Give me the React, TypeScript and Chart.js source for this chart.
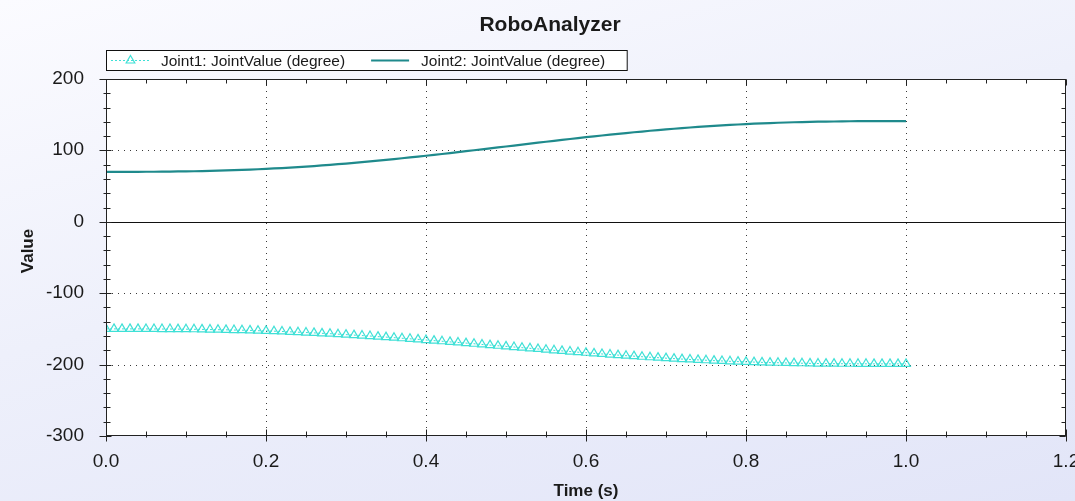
import React, { useEffect, useRef } from "react";
import { Chart, registerables } from "chart.js";

Chart.register(...registerables);

const TITLE = "RoboAnalyzer";
const X_TITLE = "Time (s)";
const Y_TITLE = "Value";
const SERIES_NAMES = ["Joint1: JointValue (degree)", "Joint2: JointValue (degree)"];

const TIME = [
  0, 0.01, 0.02, 0.03, 0.04, 0.05, 0.06, 0.07, 0.08, 0.09,
  0.1, 0.11, 0.12, 0.13, 0.14, 0.15, 0.16, 0.17, 0.18, 0.19,
  0.2, 0.21, 0.22, 0.23, 0.24, 0.25, 0.26, 0.27, 0.28, 0.29,
  0.3, 0.31, 0.32, 0.33, 0.34, 0.35, 0.36, 0.37, 0.38, 0.39,
  0.4, 0.41, 0.42, 0.43, 0.44, 0.45, 0.46, 0.47, 0.48, 0.49,
  0.5, 0.51, 0.52, 0.53, 0.54, 0.55, 0.56, 0.57, 0.58, 0.59,
  0.6, 0.61, 0.62, 0.63, 0.64, 0.65, 0.66, 0.67, 0.68, 0.69,
  0.7, 0.71, 0.72, 0.73, 0.74, 0.75, 0.76, 0.77, 0.78, 0.79,
  0.8, 0.81, 0.82, 0.83, 0.84, 0.85, 0.86, 0.87, 0.88, 0.89,
  0.9, 0.91, 0.92, 0.93, 0.94, 0.95, 0.96, 0.97, 0.98, 0.99,
  1.0,
];

const JOINT1 = [
  -150.0, -150.0, -150.0, -150.0, -150.0, -150.1, -150.1, -150.2, -150.2, -150.3,
  -150.4, -150.5, -150.7, -150.9, -151.1, -151.3, -151.6, -151.8, -152.1, -152.5,
  -152.8, -153.2, -153.6, -154.1, -154.6, -155.1, -155.6, -156.2, -156.7, -157.4,
  -158.0, -158.7, -159.3, -160.0, -160.8, -161.5, -162.3, -163.1, -163.9, -164.7,
  -165.6, -166.4, -167.3, -168.2, -169.0, -169.9, -170.8, -171.8, -172.7, -173.6,
  -174.5, -175.4, -176.3, -177.2, -178.1, -179.1, -180.0, -180.8, -181.7, -182.6,
  -183.4, -184.3, -185.1, -185.9, -186.7, -187.5, -188.2, -189.0, -189.7, -190.3,
  -191.0, -191.6, -192.3, -192.8, -193.4, -193.9, -194.4, -194.9, -195.4, -195.8,
  -196.2, -196.5, -196.9, -197.2, -197.4, -197.7, -197.9, -198.1, -198.3, -198.5,
  -198.6, -198.7, -198.8, -198.8, -198.9, -198.9, -199.0, -199.0, -199.0, -199.0,
  -199.0,
];

const JOINT2 = [
  70.0, 70.0, 70.0, 70.0, 70.0, 70.1, 70.1, 70.2, 70.3, 70.5,
  70.6, 70.8, 71.0, 71.3, 71.6, 71.9, 72.3, 72.7, 73.1, 73.6,
  74.1, 74.7, 75.3, 75.9, 76.6, 77.3, 78.1, 78.9, 79.8, 80.7,
  81.6, 82.5, 83.5, 84.6, 85.6, 86.7, 87.8, 89.0, 90.1, 91.3,
  92.5, 93.8, 95.0, 96.3, 97.6, 98.9, 100.2, 101.5, 102.8, 104.2,
  105.5, 106.8, 108.2, 109.5, 110.8, 112.1, 113.4, 114.7, 116.0, 117.2,
  118.5, 119.7, 120.9, 122.0, 123.2, 124.3, 125.4, 126.4, 127.5, 128.5,
  129.4, 130.3, 131.2, 132.1, 132.9, 133.7, 134.4, 135.1, 135.7, 136.3,
  136.9, 137.4, 137.9, 138.3, 138.7, 139.1, 139.4, 139.7, 140.0, 140.2,
  140.4, 140.5, 140.7, 140.8, 140.9, 140.9, 141.0, 141.0, 141.0, 141.0,
  141.0,
];

const X_TICKS = [0, 0.2, 0.4, 0.6, 0.8, 1.0, 1.2];
const X_TICK_LABELS = ["0.0", "0.2", "0.4", "0.6", "0.8", "1.0", "1.2"];
const Y_TICKS = [-300, -200, -100, 0, 100, 200];
const Y_TICK_LABELS = ["-300", "-200", "-100", "0", "100", "200"];
const X_MINOR_STEP = 0.05;
const Y_MINOR_STEP = 20;

const COLOR_J1 = "#3FE0D6";
const COLOR_J2 = "#1F8A8C";
const FONT = '"Liberation Sans", Arial, sans-serif';

function line(ctx: CanvasRenderingContext2D, x1: number, y1: number, x2: number, y2: number) {
  ctx.beginPath();
  ctx.moveTo(x1, y1);
  ctx.lineTo(x2, y2);
  ctx.stroke();
}

const framePlugin = {
  id: "zedFrame",
  beforeDatasetsDraw(chart: any) {
    const { ctx, chartArea: a, scales } = chart;
    const xs = scales.x;
    const ys = scales.y;
    ctx.save();
    ctx.fillStyle = "#ffffff";
    ctx.fillRect(a.left, a.top, a.right - a.left, a.bottom - a.top);
    ctx.strokeStyle = "#3a3a3a";
    ctx.lineWidth = 1;
    ctx.setLineDash([1, 5]);
    for (const v of X_TICKS) {
      if (v <= xs.min || v >= xs.max) continue;
      const px = Math.round(xs.getPixelForValue(v)) + 0.5;
      line(ctx, px, a.top, px, a.bottom);
    }
    for (const v of Y_TICKS) {
      if (v <= ys.min || v >= ys.max || v === 0) continue;
      const py = Math.round(ys.getPixelForValue(v)) + 0.5;
      line(ctx, a.left, py, a.right, py);
    }
    ctx.setLineDash([]);
    ctx.strokeStyle = "#111";
    const pz = Math.round(ys.getPixelForValue(0)) + 0.5;
    line(ctx, a.left, pz, a.right, pz);
    ctx.restore();
  },
  afterDraw(chart: any) {
    const { ctx, chartArea: a, scales } = chart;
    const xs = scales.x;
    const ys = scales.y;
    const L = Math.round(a.left) + 0.5;
    const R = Math.round(a.right) - 0.5;
    const T = Math.round(a.top) + 0.5;
    const B = Math.round(a.bottom) - 0.5;
    ctx.save();
    ctx.strokeStyle = "#222";
    ctx.lineWidth = 1;
    ctx.setLineDash([]);
    ctx.strokeRect(L, T, R - L, B - T);

    for (let v = xs.min; v <= xs.max + 1e-9; v += X_MINOR_STEP) {
      const px = Math.round(xs.getPixelForValue(v)) + 0.5;
      line(ctx, px, B - 4, px, B + 2);
      line(ctx, px, T, px, T + 4);
    }
    for (const v of X_TICKS) {
      const px = Math.round(xs.getPixelForValue(v)) + 0.5;
      line(ctx, px, B - 6, px, B + 6);
      line(ctx, px, T, px, T + 6);
    }
    for (let v = ys.min; v <= ys.max + 1e-9; v += Y_MINOR_STEP) {
      const py = Math.round(ys.getPixelForValue(v)) + 0.5;
      line(ctx, L - 3, py, L + 4, py);
      line(ctx, R - 4, py, R, py);
    }
    for (const v of Y_TICKS) {
      const py = Math.round(ys.getPixelForValue(v)) + 0.5;
      line(ctx, L - 7, py, L + 5, py);
      line(ctx, R - 6, py, R, py);
    }

    ctx.fillStyle = "#1a1a1a";
    ctx.font = `19px ${FONT}`;
    ctx.textBaseline = "alphabetic";
    ctx.textAlign = "center";
    X_TICKS.forEach((v, i) => {
      ctx.fillText(X_TICK_LABELS[i], xs.getPixelForValue(v), 467);
    });
    ctx.textAlign = "right";
    Y_TICKS.forEach((v, i) => {
      ctx.fillText(Y_TICK_LABELS[i], 84, ys.getPixelForValue(v) + 5);
    });

    ctx.font = `bold 17px ${FONT}`;
    ctx.textAlign = "center";
    ctx.fillText(X_TITLE, (a.left + a.right) / 2, 496);
    ctx.save();
    ctx.translate(33, 251);
    ctx.rotate(-Math.PI / 2);
    ctx.fillText(Y_TITLE, 0, 0);
    ctx.restore();

    ctx.font = `bold 21px ${FONT}`;
    ctx.fillText(TITLE, 550, 31);

    ctx.font = `15.5px ${FONT}`;
    const w1 = ctx.measureText(SERIES_NAMES[0]).width;
    const w2 = ctx.measureText(SERIES_NAMES[1]).width;
    const bx = 106.5, by = 50.5, bh = 20;
    const t1 = 161;
    const l2a = t1 + w1 + 26;
    const l2b = l2a + 38;
    const t2 = l2b + 12;
    const bw = t2 + w2 + 22 - bx;
    ctx.fillStyle = "#ffffff";
    ctx.fillRect(bx, by, bw, bh);
    ctx.strokeStyle = "#111";
    ctx.strokeRect(bx, by, bw, bh);
    const ly = by + bh / 2;
    ctx.strokeStyle = COLOR_J1;
    ctx.setLineDash([2, 2]);
    line(ctx, 111, ly, 150, ly);
    ctx.setLineDash([]);
    ctx.lineWidth = 1.2;
    const cx = 130.5, r = 5;
    ctx.beginPath();
    ctx.moveTo(cx, ly - r);
    ctx.lineTo(cx + r * 0.866, ly + r * 0.5);
    ctx.lineTo(cx - r * 0.866, ly + r * 0.5);
    ctx.closePath();
    ctx.stroke();
    ctx.strokeStyle = COLOR_J2;
    ctx.lineWidth = 2;
    line(ctx, l2a, ly, l2b, ly);
    ctx.fillStyle = "#1a1a1a";
    ctx.textAlign = "left";
    ctx.fillText(SERIES_NAMES[0], t1, 66);
    ctx.fillText(SERIES_NAMES[1], t2, 66);
    ctx.restore();
  },
};

export default function App() {
  const ref = useRef<HTMLCanvasElement | null>(null);
  useEffect(() => {
    document.body.style.margin = "0";
    const canvas = ref.current;
    if (!canvas) return;
    const chart = new Chart(canvas, {
      type: "line",
      data: {
        datasets: [
          {
            label: SERIES_NAMES[0],
            data: TIME.map((t, i) => ({ x: t, y: JOINT1[i] })),
            borderColor: COLOR_J1,
            borderWidth: 1,
            borderDash: [2, 2],
            pointStyle: "triangle",
            pointRadius: 5,
            pointBorderWidth: 1.2,
            pointBorderColor: COLOR_J1,
            pointBackgroundColor: "rgba(255,255,255,0)",
            tension: 0,
          },
          {
            label: SERIES_NAMES[1],
            data: TIME.map((t, i) => ({ x: t, y: JOINT2[i] })),
            borderColor: COLOR_J2,
            borderWidth: 2.2,
            pointRadius: 0,
            tension: 0,
          },
        ],
      },
      options: {
        responsive: false,
        animation: false,
        devicePixelRatio: 1,
        layout: { padding: { left: 106, right: 9, top: 79, bottom: 65 } },
        scales: {
          x: { type: "linear", min: 0, max: 1.2, display: false },
          y: { type: "linear", min: -300, max: 200, display: false },
        },
        plugins: {
          legend: { display: false },
          title: { display: false },
          tooltip: { enabled: false },
        },
      },
      plugins: [framePlugin],
    } as any);
    return () => chart.destroy();
  }, []);

  return (
    <div
      style={{
        width: 1075,
        height: 501,
        background: "linear-gradient(165deg, #fbfbff 0%, #eef0fb 45%, #e2e5f8 100%)",
      }}
    >
      <canvas ref={ref} width={1075} height={501} style={{ display: "block" }} />
    </div>
  );
}
